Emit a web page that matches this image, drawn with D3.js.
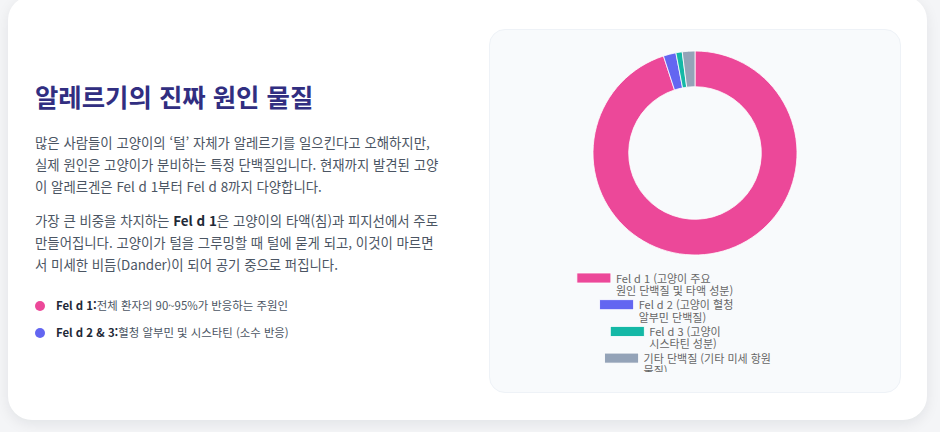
<!DOCTYPE html>
<html lang="ko">
<head>
<meta charset="utf-8">
<script src="https://cdn.jsdelivr.net/npm/d3@7"></script>
<style>
  html, body { margin: 0; padding: 0; }
  body {
    width: 940px; height: 432px; overflow: hidden; position: relative;
    background: #f4f5f7;
    font-family: "Noto Sans CJK KR", "Noto Sans", sans-serif;
  }
  .card {
    position: absolute; left: 8px; top: -4px; width: 919px; height: 424px;
    background: #fff; border-radius: 24px;
    box-shadow: 0 4px 14px rgba(15, 23, 42, 0.08);
  }
  .title {
    position: absolute; left: 35px; top: 79px; margin: 0;
    font-size: 25.4px; line-height: 34px; font-weight: 700; color: #312e81;
    white-space: nowrap;
  }
  .para {
    position: absolute; left: 35px; margin: 0;
    font-size: 13.4px; line-height: 22px; color: #4b5563; white-space: nowrap;
  }
  .para b, .bullet b { color: #1f2937; font-weight: 700; }
  .bullet {
    position: absolute; left: 35px; font-size: 11.4px; line-height: 22px;
    color: #4b5563; white-space: nowrap;
  }
  .bullet i {
    display: inline-block; width: 10px; height: 10px; border-radius: 50%;
    margin-right: 11px; vertical-align: -1px;
  }
  .panel {
    position: absolute; left: 489px; top: 29px; width: 410px; height: 362px;
    background: #f8fafc; border: 1px solid #eef2f7; border-radius: 16px;
  }
  .panel svg { position: absolute; left: 0; top: 0; }
</style>
</head>
<body>
<div class="card"></div>
<h2 class="title">알레르기의 진짜 원인 물질</h2>
<p class="para" style="top:131px">많은 사람들이 고양이의 ‘털’ 자체가 알레르기를 일으킨다고 오해하지만,<br>실제 원인은 고양이가 분비하는 특정 단백질입니다. 현재까지 발견된 고양<br>이 알레르겐은 Fel d 1부터 Fel d 8까지 다양합니다.</p>
<p class="para" style="top:209px">가장 큰 비중을 차지하는 <b>Fel d 1</b>은 고양이의 타액(침)과 피지선에서 주로<br>만들어집니다. 고양이가 털을 그루밍할 때 털에 묻게 되고, 이것이 마르면<br>서 미세한 비듬(Dander)이 되어 공기 중으로 퍼집니다.</p>
<div class="bullet" style="top:294px"><i style="background:#ec4899"></i><b>Fel d 1:</b>전체 환자의 90~95%가 반응하는 주원인</div>
<div class="bullet" style="top:321px"><i style="background:#6366f1"></i><b>Fel d 2 &amp; 3:</b>혈청 알부민 및 시스타틴 (소수 반응)</div>
<div class="panel" id="panel"></div>
<script>
// chart data
const labels = [
  ["Fel d 1 (고양이 주요", "원인 단백질 및 타액 성분)"],
  ["Fel d 2 (고양이 혈청", "알부민 단백질)"],
  ["Fel d 3 (고양이", "시스타틴 성분)"],
  ["기타 단백질 (기타 미세 항원", "물질)"]
];
const values = [95, 2, 1, 2];
const colors = ["#ec4899", "#6366f1", "#14b8a6", "#94a3b8"];

const width = 410, height = 362;
const cx = 205, cy = 123;
const outerR = 102, innerR = outerR * 0.65;

const svg = d3.select("#panel").append("svg")
  .attr("width", width).attr("height", height);

svg.append("clipPath").attr("id", "clip")
  .append("rect").attr("x", 0).attr("y", 0).attr("width", width).attr("height", 342);

const root = svg.append("g").attr("clip-path", "url(#clip)");

const pie = d3.pie().sort(null).value(d => d);
const arc = d3.arc().innerRadius(innerR).outerRadius(outerR);

root.append("g").attr("transform", `translate(${cx},${cy})`)
  .selectAll("path")
  .data(pie(values))
  .join("path")
  .attr("d", arc)
  .attr("fill", (d, i) => colors[i])
  .attr("stroke", "#ffffff")
  .attr("stroke-width", 0.8);

// legend, one item per row, centred on the joined label width like the canvas legend
const fontSize = 11, boxW = 34, boxH = 10, rowStep = 26.7, legendTop = 243;
const legend = root.append("g")
  .attr("font-family", "'Noto Sans CJK KR', 'Noto Sans', sans-serif")
  .attr("font-size", fontSize)
  .attr("fill", "#666666");

labels.forEach((lines, i) => {
  const row = legend.append("g");
  const probe = row.append("text").text(lines.join(","));
  const textW = probe.node().getComputedTextLength() * 0.915;
  probe.remove();
  const rowW = boxW + fontSize / 2 + textW;
  const x0 = cx - rowW / 2;
  const y0 = legendTop + i * rowStep;

  row.append("rect")
    .attr("x", x0).attr("y", y0)
    .attr("width", boxW).attr("height", boxH)
    .attr("fill", colors[i])
    .attr("stroke", "#ffffff").attr("stroke-width", 0.8);

  row.append("text")
    .attr("x", x0 + boxW + 5)
    .attr("y", y0 + 9.5)
    .selectAll("tspan")
    .data(lines)
    .join("tspan")
    .attr("x", x0 + boxW + 5)
    .attr("dy", (d, j) => j === 0 ? 0 : 12.5)
    .text(d => d);
});
</script>
</body>
</html>
